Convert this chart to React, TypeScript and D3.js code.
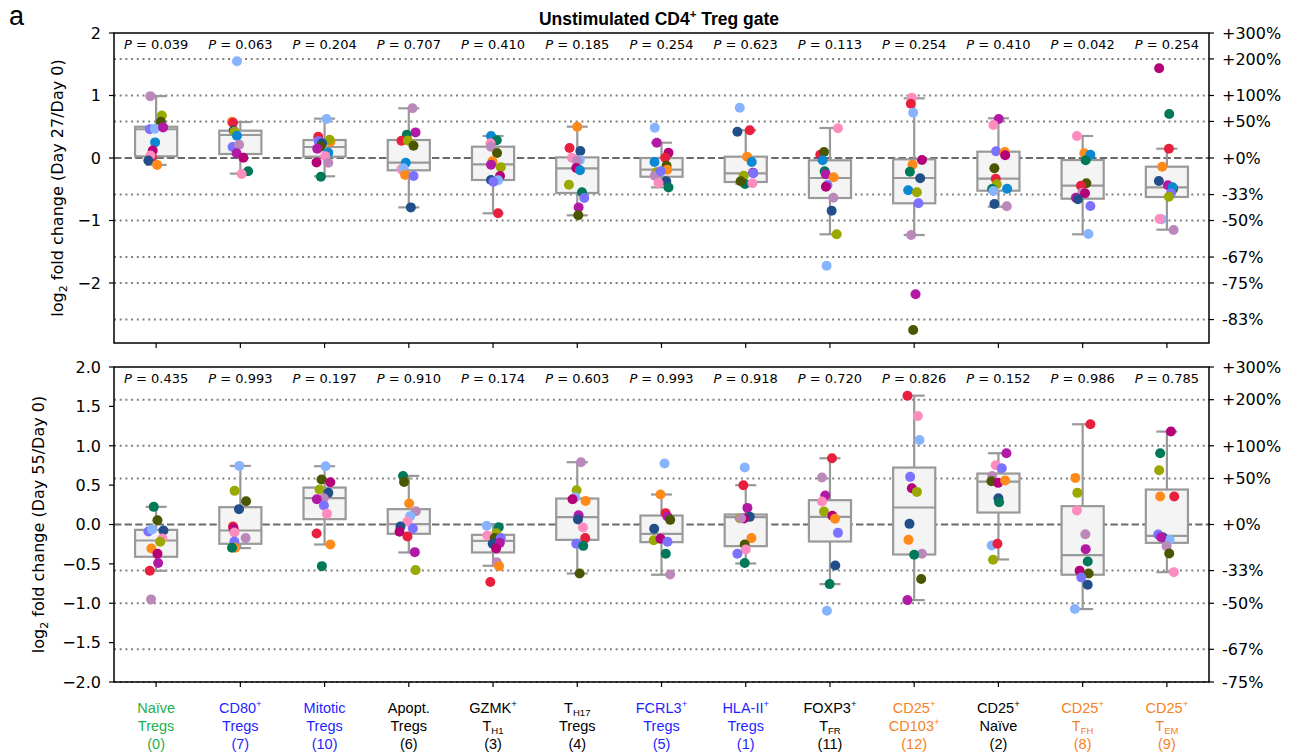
import React from 'react';
import * as d3 from 'd3';

const WIDTH = 1301;
const HEIGHT = 755;

// Cell populations along the x axis
const categories = [
  'Naïve Tregs', 'CD80+ Tregs', 'Mitotic Tregs', 'Apopt. Tregs', 'GZMK+ TH1', 'TH17 Tregs',
  'FCRL3+ Tregs', 'HLA-II+ Tregs', 'FOXP3+ TFR', 'CD25+ CD103+', 'CD25+ Naïve', 'CD25+ TFH', 'CD25+ TEM',
];

// Multi-line axis labels: ^x = superscript character, _{..} = subscript
const categoryLabels: string[][] = [
  ['Naïve', 'Tregs', '(0)'],
  ['CD80^+', 'Tregs', '(7)'],
  ['Mitotic', 'Tregs', '(10)'],
  ['Apopt.', 'Tregs', '(6)'],
  ['GZMK^+', 'T_{H1}', '(3)'],
  ['T_{H17}', 'Tregs', '(4)'],
  ['FCRL3^+', 'Tregs', '(5)'],
  ['HLA-II^+', 'Tregs', '(1)'],
  ['FOXP3^+', 'T_{FR}', '(11)'],
  ['CD25^+', 'CD103^+', '(12)'],
  ['CD25^+', 'Naïve', '(2)'],
  ['CD25^+', 'T_{FH}', '(8)'],
  ['CD25^+', 'T_{EM}', '(9)'],
];

const GREEN = '#22b14c';
const BLUE = '#1f1fff';
const BLACK = '#000000';
const ORANGE = '#f5821f';
const categoryColors = [GREEN, BLUE, BLUE, BLACK, BLACK, BLACK, BLUE, BLUE, BLACK, ORANGE, BLACK, ORANGE, ORANGE];

const pDay27 = ['0.039', '0.063', '0.204', '0.707', '0.410', '0.185', '0.254', '0.623', '0.113', '0.254', '0.410', '0.042', '0.254'];
const pDay55 = ['0.435', '0.993', '0.197', '0.910', '0.174', '0.603', '0.993', '0.918', '0.720', '0.826', '0.152', '0.986', '0.785'];

// One colour per donor
const donorColors: Record<string, string> = {
  mv: '#bb88bb', lb: '#88b4ff', bl: '#0a88d2', nv: '#224f8a', rd: '#e8203e', gr: '#00785a',
  dk: '#4b5700', ol: '#9aa800', or: '#ff8a1c', pu: '#b21aa6', cr: '#b60078', pw: '#7b72ff', pk: '#ff8cbe',
};

// [lower whisker, Q1, median, Q3, upper whisker] in log2 fold change
type Box = [number, number, number, number, number];
const boxesDay27: Box[] = [
  [-0.11, 0.027, 0.46, 0.5, 0.99],
  [-0.25, 0.064, 0.368, 0.437, 0.576],
  [-0.293, 0.02, 0.176, 0.288, 0.63],
  [-0.79, -0.197, -0.075, 0.288, 0.795],
  [-0.885, -0.352, -0.101, 0.181, 0.352],
  [-0.917, -0.56, -0.165, 0.01, 0.501],
  [-0.47, -0.3, -0.187, 0.0, 0.245],
  [-0.41, -0.384, -0.245, 0.021, 0.443],
  [-1.221, -0.64, -0.32, -0.037, 0.48],
  [-1.232, -0.725, -0.32, -0.021, 0.955],
  [-0.779, -0.523, -0.331, 0.101, 0.635],
  [-1.221, -0.651, -0.443, -0.032, 0.352],
  [-1.147, -0.624, -0.469, -0.139, 0.149],
];
const boxesDay55: Box[] = [
  [-0.588, -0.41, -0.203, -0.068, 0.224],
  [-0.3, -0.245, -0.076, 0.22, 0.744],
  [-0.254, 0.068, 0.334, 0.469, 0.74],
  [-0.355, -0.118, 0.004, 0.195, 0.617],
  [-0.524, -0.355, -0.207, -0.131, 0.004],
  [-0.622, -0.195, 0.093, 0.33, 0.791],
  [-0.638, -0.224, -0.118, 0.114, 0.381],
  [-0.495, -0.275, 0.093, 0.127, 0.499],
  [-0.757, -0.216, 0.097, 0.309, 0.841],
  [-0.96, -0.381, 0.216, 0.723, 1.636],
  [-0.444, 0.152, 0.545, 0.647, 0.905],
  [-1.074, -0.638, -0.389, 0.233, 1.273],
  [-0.605, -0.233, -0.144, 0.444, 1.18],
];

// [donor, log2 fold change, horizontal jitter as a fraction of the band]
type Pt = [string, number, number];
const pointsDay27: Pt[][] = [
  [['mv', 0.99, -0.068], ['ol', 0.68, 0.068], ['dk', 0.58, 0.056], ['pw', 0.46, -0.075], ['lb', 0.47, -0.015], ['pu', 0.49, 0.083], ['bl', 0.25, -0.012], ['cr', 0.12, -0.04], ['rd', 0.02, -0.05], ['pk', 0.04, -0.068], ['nv', -0.04, -0.092], ['or', -0.11, 0.012]],
  [['lb', 1.547, -0.04], ['or', 0.58, -0.1], ['rd', 0.565, -0.087], ['nv', 0.44, -0.08], ['ol', 0.42, -0.071], ['bl', 0.357, -0.04], ['pw', 0.176, -0.092], ['mv', 0.213, -0.015], ['pu', 0.075, -0.044], ['cr', 0.005, 0.036], ['gr', -0.213, 0.092], ['pk', -0.256, 0.015]],
  [['lb', 0.624, 0.024], ['rd', 0.341, -0.075], ['or', 0.26, 0.07], ['ol', 0.293, 0.06], ['pw', 0.27, -0.07], ['nv', 0.235, -0.03], ['dk', 0.18, -0.048], ['pu', 0.15, -0.087], ['bl', 0.085, 0.044], ['pk', 0.03, 0.008], ['cr', -0.07, -0.095], ['mv', -0.075, 0.044], ['gr', -0.3, -0.044]],
  [['mv', 0.795, 0.044], ['pu', 0.41, 0.08], ['gr', 0.373, -0.024], ['rd', 0.277, -0.087], ['ol', 0.28, -0.012], ['dk', 0.197, 0.056], ['bl', -0.075, -0.036], ['cr', -0.19, -0.07], ['pk', -0.18, -0.087], ['lb', -0.165, -0.063], ['or', -0.27, -0.044], ['pw', -0.288, 0.056], ['nv', -0.79, 0.024]],
  [['bl', 0.352, -0.024], ['gr', 0.283, 0.044], ['pk', 0.235, -0.03], ['mv', 0.181, -0.024], ['dk', 0.08, 0.048], ['or', -0.053, -0.008], ['pu', -0.107, -0.024], ['ol', -0.149, 0.092], ['cr', -0.288, 0.083], ['nv', -0.352, -0.024], ['lb', -0.357, 0.06], ['pw', -0.379, 0.004], ['rd', -0.885, 0.06]],
  [['or', 0.501, 0], ['rd', 0.16, -0.092], ['nv', 0.112, 0.036], ['pk', 0.005, -0.063], ['lb', -0.03, 0.03], ['mv', -0.043, -0.004], ['cr', -0.16, -0.012], ['bl', -0.197, 0.032], ['ol', -0.427, -0.099], ['gr', -0.549, 0.056], ['pw', -0.64, 0.083], ['pu', -0.79, 0.016], ['dk', -0.917, 0.012]],
  [['lb', 0.485, -0.08], ['pu', 0.245, -0.056], ['cr', 0.085, 0.083], ['rd', 0.005, 0.044], ['dk', -0.123, 0.06], ['bl', -0.064, -0.083], ['or', -0.187, 0.068], ['ol', -0.229, -0.06], ['mv', -0.283, -0.08], ['pw', -0.213, -0.008], ['nv', -0.373, 0.056], ['pk', -0.4, -0.036], ['gr', -0.47, 0.083]],
  [['lb', 0.805, -0.071], ['nv', 0.421, -0.099], ['rd', 0.443, 0.048], ['or', 0.021, 0.016], ['bl', -0.064, 0.071], ['cr', -0.235, 0.087], ['pw', -0.245, 0.09], ['ol', -0.283, -0.024], ['gr', -0.416, -0.008], ['dk', -0.373, -0.06], ['pk', -0.405, 0.08]],
  [['pk', 0.475, 0.095], ['rd', 0.053, -0.115], ['dk', 0.096, -0.071], ['bl', -0.037, -0.087], ['gr', -0.213, -0.063], ['pu', -0.261, -0.05], ['or', -0.309, 0.044], ['pw', -0.432, -0.03], ['cr', -0.459, -0.048], ['mv', -0.635, 0.04], ['nv', -0.843, 0.02], ['ol', -1.221, 0.08], ['lb', -1.723, -0.04]],
  [['pk', 0.965, -0.028], ['rd', 0.869, -0.04], ['lb', 0.725, -0.012], ['cr', -0.032, 0.092], ['or', -0.107, -0.02], ['gr', -0.219, -0.051], ['nv', -0.325, 0.071], ['bl', -0.517, -0.071], ['ol', -0.549, 0.032], ['pw', -0.725, 0.051], ['mv', -1.232, -0.036], ['pu', -2.181, 0.016], ['dk', -2.752, -0.012]],
  [['pu', 0.624, 0.004], ['pk', 0.528, -0.06], ['pw', 0.107, -0.028], ['or', 0.096, 0.075], ['cr', 0.043, 0.08], ['dk', -0.165, -0.048], ['rd', -0.331, -0.032], ['ol', -0.421, -0.02], ['gr', -0.496, -0.075], ['lb', -0.528, -0.06], ['bl', -0.491, 0.103], ['nv', -0.736, -0.048], ['mv', -0.773, 0.099]],
  [['pk', 0.352, -0.068], ['or', 0.075, 0.02], ['bl', 0.053, 0.092], ['gr', -0.037, 0.036], ['dk', -0.405, 0.044], ['rd', -0.443, -0.02], ['mv', -0.555, -0.004], ['cr', -0.565, 0.028], ['pu', -0.635, -0.08], ['nv', -0.661, -0.056], ['pw', -0.768, 0.092], ['lb', -1.216, 0.068]],
  [['cr', 1.435, -0.092], ['gr', 0.704, 0.028], ['rd', 0.149, 0.024], ['or', -0.139, -0.056], ['nv', -0.368, -0.095], ['pu', -0.437, 0.012], ['dk', -0.491, 0.075], ['bl', -0.469, 0.068], ['pw', -0.565, 0.048], ['ol', -0.619, 0.024], ['lb', -0.981, -0.063], ['pk', -0.976, -0.087], ['mv', -1.152, 0.08]],
];
const pointsDay55: Pt[][] = [
  [['gr', 0.224, -0.028], ['dk', 0.055, 0.016], ['pw', -0.089, -0.092], ['lb', -0.063, -0.048], ['nv', -0.076, 0.087], ['pk', -0.178, 0.075], ['ol', -0.22, 0.048], ['or', -0.304, -0.056], ['cr', -0.372, 0.016], ['pu', -0.49, 0.024], ['rd', -0.588, -0.075], ['mv', -0.951, -0.06]],
  [['lb', 0.744, -0.012], ['ol', 0.427, -0.068], ['dk', 0.296, 0.068], ['nv', 0.195, -0.016], ['rd', -0.025, -0.087], ['cr', -0.05, -0.08], ['pk', -0.101, -0.071], ['mv', -0.173, 0.063], ['pw', -0.216, -0.071], ['or', -0.296, -0.06], ['gr', -0.296, -0.099]],
  [['lb', 0.74, 0.012], ['dk', 0.571, -0.036], ['cr', 0.537, 0.068], ['ol', 0.444, -0.06], ['nv', 0.402, 0.044], ['mv', 0.334, -0.01], ['pu', 0.321, -0.092], ['pw', 0.241, -0.008], ['pk', 0.135, 0.028], ['rd', -0.114, -0.095], ['or', -0.254, 0.068], ['gr', -0.529, -0.032]],
  [['gr', 0.617, -0.068], ['dk', 0.541, -0.056], ['or', 0.266, 0.004], ['mv', 0.169, 0.083], ['lb', 0.106, 0.016], ['pk', 0.038, -0.016], ['nv', -0.025, -0.099], ['pw', -0.051, 0.048], ['cr', -0.093, -0.11], ['rd', -0.152, -0.016], ['pu', -0.351, 0.071], ['ol', -0.579, 0.08]],
  [['lb', -0.017, -0.075], ['gr', -0.034, 0.068], ['ol', -0.11, 0.04], ['pk', -0.14, -0.068], ['dk', -0.173, 0.02], ['pw', -0.173, 0.092], ['nv', -0.245, -0.004], ['pu', -0.233, 0.08], ['cr', -0.304, 0.036], ['mv', -0.478, 0.044], ['or', -0.529, 0.071], ['rd', -0.731, -0.032]],
  [['mv', 0.791, 0.044], ['ol', 0.436, -0.008], ['lb', 0.347, -0.024], ['cr', 0.321, -0.056], ['or', 0.3, 0.099], ['pu', 0.118, 0.016], ['nv', 0.063, 0.008], ['pk', -0.038, 0.068], ['rd', -0.173, 0.095], ['pw', -0.245, -0.012], ['gr', -0.271, 0.071], ['dk', -0.622, 0.028]],
  [['lb', 0.774, 0.036], ['or', 0.381, -0.012], ['rd', 0.144, 0.048], ['pu', 0.101, 0.071], ['dk', 0.059, 0.103], ['nv', -0.055, -0.087], ['ol', -0.199, -0.092], ['cr', -0.182, -0.012], ['pw', -0.22, 0.071], ['gr', -0.372, 0.051], ['mv', -0.634, 0.103]],
  [['lb', 0.723, -0.012], ['rd', 0.499, -0.028], ['pu', 0.211, 0.02], ['nv', 0.097, 0.048], ['cr', 0.076, -0.02], ['ol', 0.08, -0.071], ['mv', 0.08, -0.056], ['or', -0.173, 0.068], ['dk', -0.254, -0.012], ['pk', -0.317, 0.0], ['pw', -0.372, -0.099], ['gr', -0.49, -0.012]],
  [['rd', 0.841, 0.024], ['mv', 0.596, -0.095], ['pu', 0.368, -0.056], ['pk', 0.292, -0.095], ['ol', 0.165, -0.071], ['cr', 0.11, 0.028], ['or', 0.072, 0.06], ['pw', -0.106, 0.095], ['nv', -0.52, 0.063], ['gr', -0.757, -0.004], ['lb', -1.095, -0.036]],
  [['rd', 1.636, -0.08], ['pk', 1.378, 0.044], ['lb', 1.074, 0.063], ['pw', 0.605, -0.048], ['cr', 0.461, -0.028], ['ol', 0.414, 0.032], ['nv', 0.008, -0.056], ['or', -0.195, -0.068], ['mv', -0.372, 0.092], ['gr', -0.385, 0.0], ['dk', -0.693, 0.083], ['pu', -0.96, -0.08]],
  [['pu', 0.905, 0.095], ['pk', 0.753, -0.032], ['pw', 0.715, 0.04], ['mv', 0.617, -0.075], ['dk', 0.55, -0.083], ['cr', 0.529, -0.004], ['or', 0.558, 0.08], ['nv', 0.334, 0.0], ['gr', 0.283, 0.008], ['lb', -0.266, -0.08], ['rd', -0.245, -0.012], ['ol', -0.448, -0.063]],
  [['rd', 1.273, 0.092], ['or', 0.592, -0.087], ['ol', 0.402, -0.063], ['pk', 0.178, -0.068], ['mv', -0.123, 0.032], ['pu', -0.313, 0.036], ['gr', -0.469, 0.06], ['cr', -0.588, -0.036], ['dk', -0.622, 0.071], ['pw', -0.672, -0.016], ['nv', -0.765, 0.06], ['lb', -1.074, -0.092]],
  [['cr', 1.18, 0.048], ['gr', 0.905, -0.08], ['ol', 0.689, -0.092], ['or', 0.355, -0.08], ['rd', 0.355, 0.087], ['pw', -0.127, -0.103], ['nv', -0.165, -0.044], ['lb', -0.195, 0.032], ['pu', -0.161, -0.068], ['mv', -0.275, -0.004], ['dk', -0.368, 0.028], ['pk', -0.605, 0.083]],
];

// Right-hand axis: fold changes and their percentage labels
const foldTicks = [4, 3, 2, 1.5, 1, 2 / 3, 1 / 2, 1 / 3, 1 / 4, 1 / 6];
const foldLabels = ['+300%', '+200%', '+100%', '+50%', '+0%', '-33%', '-50%', '-67%', '-75%', '-83%'];

const leftTicksDay27 = [2, 1, 0, -1, -2];
const leftTicksDay55 = [2, 1.5, 1, 0.5, 0, -0.5, -1, -1.5, -2];

const SANS = 'DejaVu Sans, sans-serif';
const ARIAL = 'Liberation Sans, Arial, sans-serif';

const PLOT_LEFT = 114;
const PLOT_RIGHT = 1209;

const x = d3.scaleBand<string>().domain(categories).range([PLOT_LEFT, PLOT_RIGHT]).paddingInner(0).paddingOuter(0);

// Renders a string with ^x superscripts and _{..} subscripts as tspans
function richText(s: string, size: number) {
  const parts: { t: string; k: 'n' | 'sup' | 'sub' }[] = [];
  let buf = '';
  let i = 0;
  while (i < s.length) {
    const c = s[i];
    if (c === '^') {
      if (buf) parts.push({ t: buf, k: 'n' });
      buf = '';
      parts.push({ t: s[i + 1], k: 'sup' });
      i += 2;
    } else if (c === '_' && s[i + 1] === '{') {
      if (buf) parts.push({ t: buf, k: 'n' });
      buf = '';
      const end = s.indexOf('}', i);
      parts.push({ t: s.slice(i + 2, end), k: 'sub' });
      i = end + 1;
    } else {
      buf += c;
      i++;
    }
  }
  if (buf) parts.push({ t: buf, k: 'n' });
  let shift = 0;
  return parts.map((p, j) => {
    const target = p.k === 'sup' ? -0.38 * size : p.k === 'sub' ? 0.22 * size : 0;
    const dy = target - shift;
    shift = target;
    return (
      <tspan key={j} dy={dy} fontSize={p.k === 'n' ? size : size * 0.66}>
        {p.t}
      </tspan>
    );
  });
}

interface PanelProps {
  top: number;
  bottom: number;
  domain: [number, number];
  boxes: Box[];
  points: Pt[][];
  pvals: string[];
  leftTicks: number[];
  leftFormat: (v: number) => string;
  dayLabel: string;
  labelX: number;
}

function Panel({ top, bottom, domain, boxes, points, pvals, leftTicks, leftFormat, dayLabel, labelX }: PanelProps) {
  const y = d3.scaleLinear().domain(domain).range([bottom, top]);
  const bw = x.bandwidth();
  const boxW = bw * 0.5;
  const capW = boxW * 0.5;
  const eps = 1e-6;
  const inDomain = (v: number) => v >= domain[0] - eps && v <= domain[1] + eps;
  const rightTicks = foldTicks.map((f, i) => ({ v: Math.log2(f), label: foldLabels[i] })).filter((t) => inDomain(t.v));
  const gridLines = rightTicks.filter((t) => Math.abs(t.v) > eps && t.v < domain[1] - eps);
  const boxColor = '#999999';
  const pTextY = top + 16;

  return (
    <g>
      {/* reference lines */}
      {gridLines.map((t, i) => (
        <line key={`g${i}`} x1={PLOT_LEFT} x2={PLOT_RIGHT} y1={y(t.v)} y2={y(t.v)} stroke="#808080" strokeWidth={2} strokeDasharray="2 3.7" />
      ))}
      <line x1={PLOT_LEFT} x2={PLOT_RIGHT} y1={y(0)} y2={y(0)} stroke="#6a6a6a" strokeWidth={2} strokeDasharray="7.4 3.2" />

      {/* box plots */}
      {boxes.map((b, i) => {
        const cx = (x(categories[i]) as number) + bw / 2;
        const [lo, q1, med, q3, hi] = b;
        return (
          <g key={`b${i}`} stroke={boxColor} strokeWidth={2.2}>
            <line x1={cx} x2={cx} y1={y(q3)} y2={y(hi)} />
            <line x1={cx} x2={cx} y1={y(q1)} y2={y(lo)} />
            <line x1={cx - capW / 2} x2={cx + capW / 2} y1={y(hi)} y2={y(hi)} />
            <line x1={cx - capW / 2} x2={cx + capW / 2} y1={y(lo)} y2={y(lo)} />
            <rect x={cx - boxW / 2} y={y(q3)} width={boxW} height={y(q1) - y(q3)} fill="#f4f4f4" />
            <line x1={cx - boxW / 2} x2={cx + boxW / 2} y1={y(med)} y2={y(med)} />
          </g>
        );
      })}

      {/* donor points */}
      {points.map((pts, i) => {
        const cx = (x(categories[i]) as number) + bw / 2;
        return (
          <g key={`p${i}`}>
            {pts.map(([d, v, j], k) => (
              <circle key={k} cx={cx + j * bw} cy={y(v)} r={5} fill={donorColors[d]} />
            ))}
          </g>
        );
      })}

      {/* P values */}
      {pvals.map((p, i) => {
        const cx = (x(categories[i]) as number) + bw / 2;
        return (
          <text key={`t${i}`} x={cx} y={pTextY} textAnchor="middle" fontFamily={SANS} fontSize={13}>
            <tspan fontStyle="italic">P</tspan>
            <tspan>{` = ${p}`}</tspan>
          </text>
        );
      })}

      {/* frame */}
      <rect x={PLOT_LEFT} y={top} width={PLOT_RIGHT - PLOT_LEFT} height={bottom - top} fill="none" stroke="#000" strokeWidth={1.5} />

      {/* left axis */}
      {leftTicks.map((v, i) => (
        <g key={`l${i}`}>
          <line x1={PLOT_LEFT - 5} x2={PLOT_LEFT} y1={y(v)} y2={y(v)} stroke="#000" strokeWidth={1.2} />
          <text x={PLOT_LEFT - 13} y={y(v)} dy="0.36em" textAnchor="end" fontFamily={SANS} fontSize={16}>
            {leftFormat(v)}
          </text>
        </g>
      ))}

      {/* right axis */}
      {rightTicks.map((t, i) => (
        <g key={`r${i}`}>
          <line x1={PLOT_RIGHT} x2={PLOT_RIGHT + 5} y1={y(t.v)} y2={y(t.v)} stroke="#000" strokeWidth={1.2} />
          <text x={PLOT_RIGHT + 13} y={y(t.v)} dy="0.36em" textAnchor="start" fontFamily={SANS} fontSize={16}>
            {t.label}
          </text>
        </g>
      ))}

      {/* x tick marks */}
      {categories.map((c, i) => {
        const cx = (x(c) as number) + bw / 2;
        return <line key={`x${i}`} x1={cx} x2={cx} y1={bottom} y2={bottom + 5} stroke="#000" strokeWidth={1.2} />;
      })}

      {/* y axis title */}
      <text transform={`translate(${labelX},${(top + bottom) / 2}) rotate(-90)`} textAnchor="middle" fontFamily={SANS} fontSize={16}>
        <tspan>log</tspan>
        <tspan fontSize={11} dy={4}>2</tspan>
        <tspan dy={-4}>{` fold change (${dayLabel}/Day 0)`}</tspan>
      </text>
    </g>
  );
}

export default function App() {
  const bw = x.bandwidth();
  const fmtInt = (v: number) => d3.format('d')(v);
  const fmtOne = (v: number) => d3.format('.1f')(v);
  return (
    <svg width={WIDTH} height={HEIGHT} style={{ position: 'absolute', left: 0, top: 0, background: '#fff' }}>
      <text x={9} y={25} fontFamily={ARIAL} fontSize={27}>a</text>
      <text x={659} y={25} textAnchor="middle" fontFamily={ARIAL} fontWeight="bold" fontSize={17.5}>
        {richText('Unstimulated CD4^+ Treg gate', 17.5)}
      </text>

      <Panel
        top={33}
        bottom={343}
        domain={[-2.96, 2]}
        boxes={boxesDay27}
        points={pointsDay27}
        pvals={pDay27}
        leftTicks={leftTicksDay27}
        leftFormat={fmtInt}
        dayLabel="Day 27"
        labelX={63}
      />
      <Panel
        top={367}
        bottom={682}
        domain={[-2, 2]}
        boxes={boxesDay55}
        points={pointsDay55}
        pvals={pDay55}
        leftTicks={leftTicksDay55}
        leftFormat={fmtOne}
        dayLabel="Day 55"
        labelX={44}
      />

      {/* category labels */}
      {categoryLabels.map((lines, i) => {
        const cx = (x(categories[i]) as number) + bw / 2;
        return (
          <g key={`c${i}`} fill={categoryColors[i]}>
            {lines.map((ln, k) => (
              <text key={k} x={cx} y={713 + k * 18} textAnchor="middle" fontFamily={ARIAL} fontSize={14.5}>
                {richText(ln, 14.5)}
              </text>
            ))}
          </g>
        );
      })}
    </svg>
  );
}
